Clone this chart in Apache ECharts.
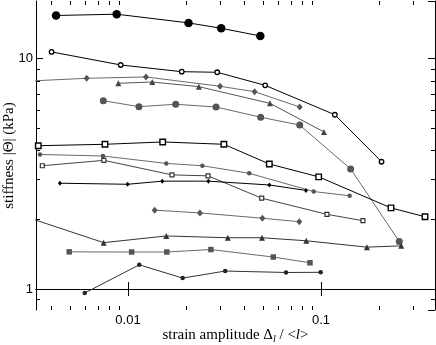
<!DOCTYPE html>
<html>
<head>
<meta charset="utf-8">
<script src="https://cdn.jsdelivr.net/npm/echarts@6/dist/echarts.min.js"></script>
<style>
  html, body { margin: 0; padding: 0; background: #fff; }
  #chart { width: 436px; height: 345px; }
</style>
</head>
<body>
<div id="chart"></div>
<script>
// axis ranges (strain amplitude, stiffness in kPa)
const X_MIN = 0.003338
const X_MAX = 0.3898
const Y_MIN = 0.811
const Y_MAX = 17.8

const xMinorTicks = [0.004, 0.005, 0.006, 0.007, 0.008, 0.009,
  0.02, 0.03, 0.04, 0.05, 0.06, 0.07, 0.08, 0.09, 0.2, 0.3]
const yMinorTicks = [0.9, 2, 3, 4, 5, 6, 7, 8, 9]

// [strain, stiffness] per data set
const bigDots = [[0.00424, 15.4], [0.00874, 15.6], [0.0206, 14.3], [0.0304, 13.55], [0.0485, 12.55]]
const openCircles = [[0.00402, 10.7], [0.00917, 9.39], [0.019, 8.78], [0.029, 8.73], [0.0514, 7.66], [0.118, 5.71], [0.206, 3.57]]
const greyDiamondsTop = [[0.0028, 7.97], [0.00611, 8.22], [0.0124, 8.33], [0.03, 7.59], [0.0453, 7.19], [0.0776, 6.17]]
const greyTrianglesTop = [[0.00891, 7.82], [0.01336, 7.92], [0.0233, 7.56], [0.0544, 6.4], [0.1036, 4.81]]
const greyBigCircles = [[0.00745, 6.57], [0.0114, 6.19], [0.01767, 6.34], [0.0286, 6.17], [0.0487, 5.57], [0.0776, 5.15], [0.1425, 3.32], [0.2545, 1.61]]
const openSquares = [[0.00343, 4.19], [0.0076, 4.25], [0.01513, 4.35], [0.0314, 4.25], [0.054, 3.49], [0.0973, 3.07], [0.2305, 2.25], [0.346, 2.06]]
const smallGreyCircles = [[0.0035, 3.84], [0.00742, 3.78], [0.0158, 3.51], [0.0243, 3.43], [0.0425, 3.18], [0.0917, 2.65], [0.1408, 2.54]]
const smallOpenSquares = [[0.0036, 3.43], [0.0075, 3.62], [0.0169, 3.13], [0.026, 3.1], [0.0493, 2.48], [0.1074, 2.11], [0.165, 1.98]]
const smallBlackDiamonds = [[0.00444, 2.88], [0.00996, 2.85], [0.01505, 2.94], [0.0261, 2.94], [0.054, 2.83], [0.0836, 2.68]]
const greyDiamondsMid = [[0.01375, 2.2], [0.0236, 2.14], [0.0497, 2.03], [0.0772, 1.96]]
const darkTriangles = [[0.0028, 2.09], [0.00748, 1.59], [0.0158, 1.7], [0.0329, 1.67], [0.0495, 1.67], [0.0839, 1.62], [0.173, 1.52], [0.2606, 1.54]]
const greySquares = [[0.00496, 1.45], [0.01045, 1.448], [0.0159, 1.448], [0.0269, 1.484], [0.0566, 1.377], [0.0877, 1.3]]
const darkDots = [[0.00597, 0.961], [0.01144, 1.274], [0.0192, 1.116], [0.0319, 1.197], [0.0659, 1.18], [0.0996, 1.182]]

const GREY = '#555'
const GREY_LINE = '#6a6a6a'

const mk = (data, symbol, size, fill, line, border, bw) => ({
  type: 'line',
  data,
  symbol,
  symbolSize: size,
  showAllSymbol: true,
  clip: true,
  xAxisIndex: 0,
  yAxisIndex: 0,
  lineStyle: { color: line, width: 1 },
  itemStyle: border
    ? { color: fill, borderColor: border, borderWidth: bw || 1.4 }
    : { color: fill, borderWidth: 0 },
  emphasis: { disabled: true }
})

const fmt = (v) => String(+Number(v).toPrecision(3))
const lg = Math.log10

const tickAxis = (position, min, max, ticks, len) => ({
  type: 'value',
  position,
  min,
  max,
  axisLine: { show: false },
  axisTick: { show: true, inside: true, length: len, customValues: ticks, lineStyle: { color: '#000', width: 1 } },
  axisLabel: { show: false },
  splitLine: { show: false }
})

const majorAxis = (position, min, max) => ({
  type: 'log',
  logBase: 10,
  position,
  min,
  max,
  axisLine: { show: true, lineStyle: { color: '#000', width: 1 } },
  axisTick: { show: true, inside: true, length: 7, lineStyle: { color: '#000', width: 1 } },
  axisLabel: { show: false },
  splitLine: { show: false }
})

const labelStyle = {
  show: true,
  color: '#000',
  fontFamily: 'Liberation Sans',
  fontSize: 13,
  showMinLabel: false,
  showMaxLabel: false,
  formatter: fmt
}

const chart = echarts.init(document.getElementById('chart'))

chart.setOption({
  animation: false,
  backgroundColor: '#fff',
  grid: { left: 36, right: 1, top: 1, bottom: 35, containLabel: false, outerBoundsMode: 'none' },
  xAxis: [
    Object.assign(majorAxis('bottom', X_MIN, X_MAX), {
      axisLabel: Object.assign({}, labelStyle, { margin: 4 }),
      name: 'strain amplitude Δ{sub|l} / <{it|l}>',
      nameLocation: 'middle',
      nameGap: 16,
      nameMoveOverlap: false,
      nameTextStyle: {
        color: '#000',
        fontFamily: 'Liberation Serif',
        fontSize: 15,
        lineHeight: 18,
        rich: {
          sub: { fontFamily: 'Liberation Serif', fontStyle: 'italic', fontSize: 10, verticalAlign: 'bottom', lineHeight: 18 },
          it: { fontFamily: 'Liberation Serif', fontStyle: 'italic', fontSize: 15 }
        }
      }
    }),
    majorAxis('top', X_MIN, X_MAX),
    tickAxis('bottom', lg(X_MIN), lg(X_MAX), xMinorTicks.map(lg), 4),
    tickAxis('top', lg(X_MIN), lg(X_MAX), xMinorTicks.map(lg), 4)
  ],
  yAxis: [
    Object.assign(majorAxis('left', Y_MIN, Y_MAX), {
      axisLabel: Object.assign({}, labelStyle, { margin: 3 }),
      name: 'stiffness |Θ| (kPa)',
      nameLocation: 'middle',
      nameGap: 19,
      nameMoveOverlap: false,
      nameTextStyle: { color: '#000', fontFamily: 'Liberation Serif', fontSize: 15 }
    }),
    majorAxis('right', Y_MIN, Y_MAX),
    tickAxis('left', lg(Y_MIN), lg(Y_MAX), yMinorTicks.map(lg), 4),
    tickAxis('right', lg(Y_MIN), lg(Y_MAX), yMinorTicks.map(lg), 4)
  ],
  series: [
    mk(bigDots, 'circle', 8.5, '#000', '#000'),
    mk(openCircles, 'circle', 4.5, '#fff', '#000', '#000', 1.3),
    mk(greyDiamondsTop, 'diamond', [6, 7], GREY, GREY_LINE),
    mk(greyTrianglesTop, 'triangle', 6, '#444', '#555'),
    mk(greyBigCircles, 'circle', 7, GREY, GREY_LINE),
    mk(openSquares, 'rect', 5.5, '#fff', '#000', '#000', 1.4),
    mk(smallGreyCircles, 'circle', 4.5, GREY, GREY_LINE),
    mk(smallOpenSquares, 'rect', 4, '#fff', '#444', '#333', 1.2),
    mk(smallBlackDiamonds, 'diamond', [4, 5], '#000', '#000'),
    mk(greyDiamondsMid, 'diamond', [6, 7], GREY, GREY_LINE),
    mk(darkTriangles, 'triangle', 6, '#333', '#333'),
    mk(greySquares, 'rect', 5.5, GREY, GREY_LINE),
    mk(darkDots, 'circle', 4.5, '#222', '#333')
  ]
})
</script>
</body>
</html>
